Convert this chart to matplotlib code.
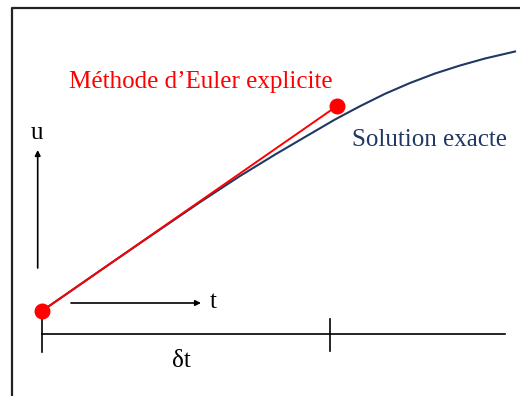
import matplotlib
matplotlib.use("Agg")
import matplotlib.pyplot as plt

# Exact solution curve (image-pixel coordinates: x right, y down)
exact_t = [42, 100, 150, 200, 240, 275, 305, 335, 360, 385, 410, 435, 460, 485, 515]
exact_u = [311, 270.7, 236.3, 202.2, 176.0, 154.6, 137.0, 119.5, 106.2, 93.8, 83.0, 73.5, 65.5, 58.5, 51.5]

# Explicit Euler step
euler_t = [42, 337]
euler_u = [311, 106]

# Time axis and ticks
axis_t = [42, 505]
axis_u = 334
tick_t = [42, 330]
tick_top = [311, 319]
tick_bottom = [352, 351]

label_euler = "Méthode d\u2019Euler explicite"
label_exact = "Solution exacte"

RED = "#FF0000"
NAVY = "#1F3864"

fig = plt.figure(figsize=(5.2, 3.96), dpi=100)
ax = fig.add_axes([0, 0, 1, 1])
ax.set_xlim(0, 520)
ax.set_ylim(396, 0)
ax.axis("off")

# frame
ax.plot([11.5, 11.5, 520], [396, 7.5, 7.5], color="#222222", lw=1.6, solid_capstyle="projecting")

# exact solution
ax.plot(exact_t, exact_u, color=NAVY, lw=1.5, solid_joinstyle="round")
# Euler
ax.plot(euler_t, euler_u, color=RED, lw=1.4)
ax.plot(euler_t, euler_u, "o", color=RED, ms=10.5, zorder=5)

# time axis
ax.plot(axis_t, [axis_u, axis_u], color="black", lw=1.2)
for x, y0, y1 in zip(tick_t, tick_top, tick_bottom):
    ax.plot([x, x], [y0, y1], color="black", lw=1.2, zorder=1)

# arrows
ax.annotate("", xy=(201, 303), xytext=(71, 303),
            arrowprops=dict(arrowstyle="-|>", color="black", lw=1.2,
                            mutation_scale=8, shrinkA=0, shrinkB=0))
ax.annotate("", xy=(37.7, 150), xytext=(37.7, 268),
            arrowprops=dict(arrowstyle="-|>", color="black", lw=1.2,
                            mutation_scale=8, shrinkA=0, shrinkB=0))

font = dict(family="Liberation Serif")
ax.text(201, 82, label_euler, color=RED, fontsize=18, ha="center", va="center", **font)
ax.text(430, 140, label_exact, color=NAVY, fontsize=18, ha="center", va="center", **font)
ax.text(213, 302, "t", color="black", fontsize=18, ha="center", va="center", **font)
ax.text(37, 133, "u", color="black", fontsize=18, ha="center", va="center", **font)
ax.text(181, 361, "\u03b4t", color="black", fontsize=18, ha="center", va="center", **font)

fig.savefig("out.png", dpi=100)
